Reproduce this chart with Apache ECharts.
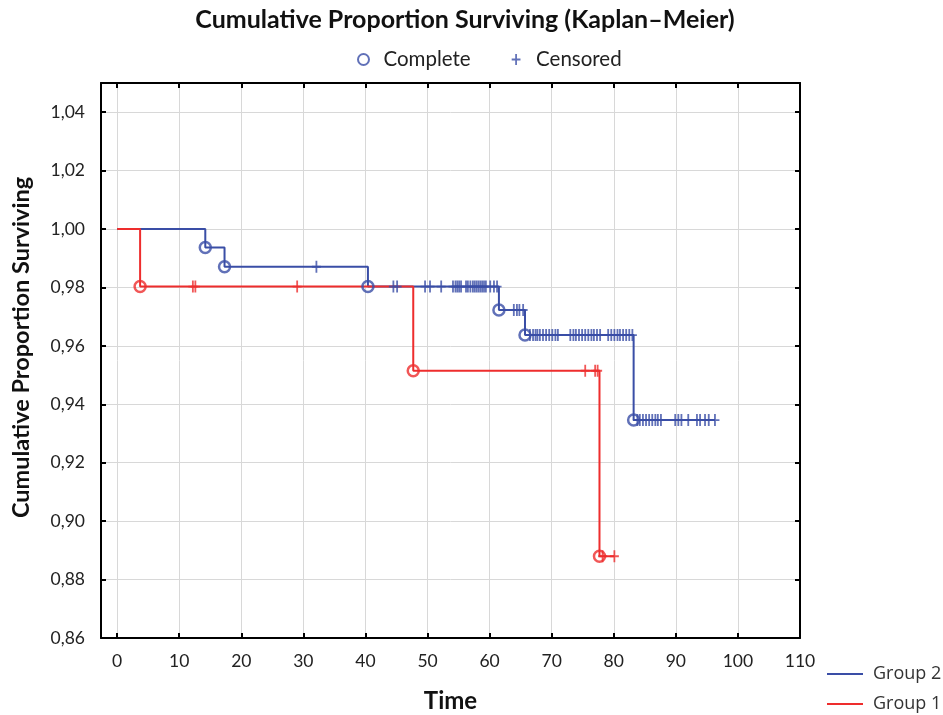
<!DOCTYPE html>
<html>
<head>
<meta charset="utf-8">
<script src="https://cdn.jsdelivr.net/npm/echarts@6/dist/echarts.min.js"></script>
<style>html,body{margin:0;padding:0;background:#fff}#c{width:943px;height:715px}</style>
</head>
<body>
<div id="c"></div>
<script>
// ---- data ----
const xTicks = [0, 10, 20, 30, 40, 50, 60, 70, 80, 90, 100, 110];
const yTicks = [0.86, 0.88, 0.90, 0.92, 0.94, 0.96, 0.98, 1.00, 1.02, 1.04];

// Group 2 (blue): event times and survival after each event
const g2EventTimes = [14.2, 17.3, 40.4, 61.5, 65.7, 83.2];
const g2EventSurv  = [0.9937, 0.9871, 0.9803, 0.9723, 0.9637, 0.9346];
const g2Censored = [32.1, 44.5, 45.1, 49.6, 50.4, 52.2,
  54.1, 54.5, 54.8, 55.1, 55.4, 56.2, 56.5, 56.9, 57.3, 57.6, 57.9,
  58.2, 58.5, 58.8, 59.1, 59.4, 60.1, 60.7, 61.2,
  63.9, 64.4, 64.8, 65.4,
  66.5, 67.0, 67.4, 67.7, 68.1, 68.6, 69.1, 69.6, 70.1, 70.6, 71.0,
  73.0, 73.5, 73.9, 74.4, 74.9, 75.4, 75.9, 76.4, 76.8, 77.3, 77.8,
  79.1, 79.6, 80.1, 80.6, 81.0, 81.5, 82.0, 82.5, 83.0,
  83.8, 84.2, 84.7, 85.2, 85.7, 86.2, 86.7, 87.1, 87.6,
  89.9, 90.4, 90.9, 92.0, 93.4, 93.9, 94.7, 95.3, 96.3];

// Group 1 (red)
const g1EventTimes = [3.7, 47.7, 77.7];
const g1EventSurv  = [0.9803, 0.9515, 0.888];
const g1Censored = [12.2, 12.6, 29.0, 75.4, 77.0, 77.4, 78.2, 80.1];

const BLUE = '#3a4ea6';
const RED = '#ee2d2d';
const FONT = 'Lato';

function survAt(times, surv, t) {
  let s = 1;
  for (let i = 0; i < times.length; i++) if (times[i] <= t) s = surv[i];
  return s;
}
function stepLine(times, surv, cens) {
  const d = [[0, 1]];
  times.forEach((t, i) => d.push([t, surv[i]]));
  const end = Math.max(cens[cens.length - 1], times[times.length - 1]);
  d.push([end, survAt(times, surv, end)]);
  return d;
}
const plusPath = 'path://M3.2,0h1.6v10h-1.6zM0,4.2h8v1.6h-8z';
const lineIcon = 'path://M0,0h36v2h-36z';

const completeData = [];
g2EventTimes.forEach((t, i) => completeData.push({value: [t, g2EventSurv[i]], itemStyle: {borderColor: BLUE}}));
g1EventTimes.forEach((t, i) => completeData.push({value: [t, g1EventSurv[i]], itemStyle: {borderColor: RED}}));
const censData = [];
g2Censored.forEach(t => censData.push({value: [t, survAt(g2EventTimes, g2EventSurv, t)], itemStyle: {color: BLUE}}));
g1Censored.forEach(t => censData.push({value: [t, survAt(g1EventTimes, g1EventSurv, t)], itemStyle: {color: RED}}));

const fmtY = v => v.toFixed(2).replace('.', ',');

const chart = echarts.init(document.getElementById('c'), null, {renderer: 'canvas'});
chart.setOption({
  animation: false,
  backgroundColor: '#fff',
  textStyle: {fontFamily: FONT},
  title: {
    text: 'Cumulative Proportion Surviving (Kaplan\u2013Meier)',
    left: 465, textAlign: 'center', top: 7, padding: 0,
    textStyle: {fontFamily: FONT, fontSize: 25, fontWeight: 'bold', color: '#111'}
  },
  legend: [{
    data: ['Complete', 'Censored'],
    left: 352, top: 44, itemWidth: 30, itemHeight: 11, itemGap: 41,
    textStyle: {fontFamily: FONT, fontSize: 20.5, color: '#222'}
  }, {
    data: [{name: 'Group 2', icon: lineIcon, itemStyle: {color: BLUE}}, {name: 'Group 1', icon: lineIcon, itemStyle: {color: RED}}],
    orient: 'vertical', left: 827, top: 664, padding: 0, itemWidth: 36, itemHeight: 2, itemGap: 10,
    textStyle: {fontFamily: 'Open Sans', fontSize: 18, color: '#333', lineHeight: 20, padding: [0, 0, 0, 5]}
  }],
  grid: {left: 101, right: 143, top: 83, bottom: 77, outerBoundsMode: 'none', containLabel: false},
  xAxis: [{
    type: 'value', min: -2.6, max: 110,
    name: 'Time', nameLocation: 'middle', nameGap: 51,
    nameTextStyle: {fontFamily: FONT, fontSize: 24, fontWeight: 'bold', color: '#111'},
    axisLine: {show: true, onZero: false, lineStyle: {color: '#000', width: 2}},
    axisTick: {show: true, inside: true, length: 5, customValues: xTicks, lineStyle: {color: '#000', width: 2}},
    axisLabel: {customValues: xTicks, margin: 14, fontFamily: FONT, fontSize: 17.5, color: '#222'},
    splitLine: {show: true, lineStyle: {color: '#d8d8d8', width: 1}}
  }, {
    type: 'value', min: -2.6, max: 110, position: 'top',
    axisLine: {show: true, onZero: false, lineStyle: {color: '#000', width: 2}},
    axisTick: {show: true, inside: true, length: 5, customValues: xTicks, lineStyle: {color: '#000', width: 2}},
    axisLabel: {show: false}, splitLine: {show: false}
  }],
  yAxis: [{
    type: 'value', min: 0.86, max: 1.05,
    name: 'Cumulative Proportion Surviving', nameLocation: 'middle', nameGap: 68,
    nameTextStyle: {fontFamily: FONT, fontSize: 23.5, fontWeight: 'bold', color: '#111', padding: [0, 0, 0, 26]},
    axisLine: {show: true, onZero: false, lineStyle: {color: '#000', width: 2}},
    axisTick: {show: true, inside: true, length: 5, customValues: yTicks, lineStyle: {color: '#000', width: 2}},
    axisLabel: {customValues: yTicks, formatter: fmtY, margin: 16, fontFamily: FONT, fontSize: 17.5, color: '#222'},
    splitLine: {show: true, lineStyle: {color: '#d8d8d8', width: 1}}
  }, {
    type: 'value', min: 0.86, max: 1.05, position: 'right',
    axisLine: {show: true, onZero: false, lineStyle: {color: '#000', width: 2}},
    axisTick: {show: true, inside: true, length: 5, customValues: yTicks, lineStyle: {color: '#000', width: 2}},
    axisLabel: {show: false}, splitLine: {show: false}
  }],
  series: [{
    name: 'Group 2', type: 'line', step: 'end', symbol: 'none',
    data: stepLine(g2EventTimes, g2EventSurv, g2Censored),
    lineStyle: {color: BLUE, width: 2}, itemStyle: {color: BLUE}, z: 2
  }, {
    name: 'Group 1', type: 'line', step: 'end', symbol: 'none',
    data: stepLine(g1EventTimes, g1EventSurv, g1Censored),
    lineStyle: {color: RED, width: 2}, itemStyle: {color: RED}, z: 3
  }, {
    name: 'Complete', type: 'scatter', symbol: 'circle', symbolSize: 11,
    itemStyle: {color: 'rgba(0,0,0,0)', borderColor: BLUE, borderWidth: 2.5},
    data: completeData, z: 5
  }, {
    name: 'Censored', type: 'scatter', symbol: plusPath, symbolSize: [9, 12],
    itemStyle: {color: BLUE},
    data: censData, z: 4
  }]
});
</script>
</body>
</html>
